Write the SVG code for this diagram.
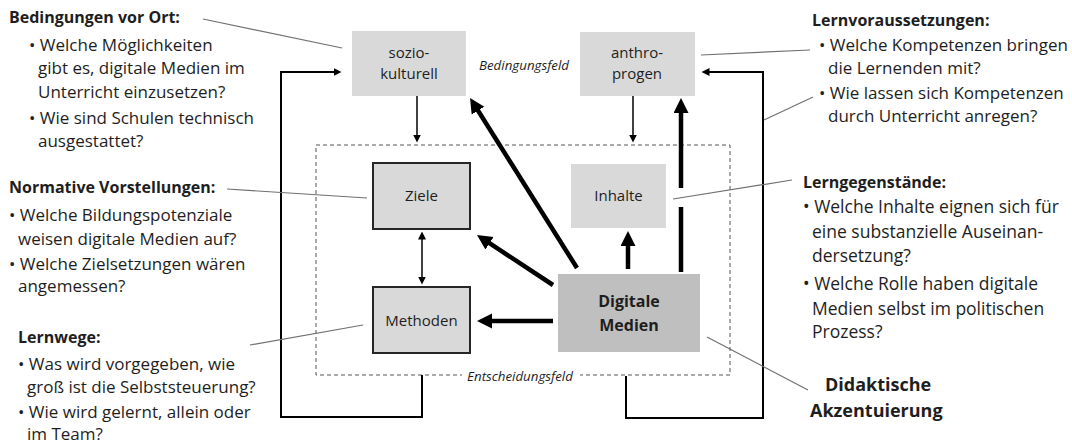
<svg xmlns="http://www.w3.org/2000/svg" width="1072" height="445" viewBox="0 0 1072 445">
  <style>
    text { font-family: "Open Sans", "Liberation Sans", sans-serif; fill: #1e1e1e; }
    .body { font-size: 17px; }
    .bodyL { font-size: 17.5px; }
    .head { font-size: 16px; font-weight: bold; }
    .node { font-size: 15px; }
    .field { font-size: 13.3px; font-style: italic; }
    .dm { font-size: 16px; font-weight: bold; }
    .big { font-size: 18px; font-weight: bold; }
    .light { fill: #d9d9d9; }
    .framed { fill: #d9d9d9; stroke: #262626; stroke-width: 2; }
    .dark { fill: #bfbfbf; }
    .leader { stroke: #707070; stroke-width: 1.2; fill: none; }
    .thin { stroke: #000; stroke-width: 1.5; fill: none; }
    .loop { stroke: #000; stroke-width: 2; fill: none; }
    .thick { stroke: #000; stroke-width: 4.5; fill: none; }
  </style>
  <defs>
    <marker id="headThin" markerUnits="userSpaceOnUse" markerWidth="10" markerHeight="10" refX="0.5" refY="4" orient="auto">
      <path d="M0,0 L8,4 L0,8 z" fill="#000"/>
    </marker>
    <marker id="headThinStart" markerUnits="userSpaceOnUse" markerWidth="10" markerHeight="10" refX="7.5" refY="4" orient="auto">
      <path d="M8,0 L0,4 L8,8 z" fill="#000"/>
    </marker>
    <marker id="headThick" markerUnits="userSpaceOnUse" markerWidth="16" markerHeight="16" refX="1" refY="7.5" orient="auto">
      <path d="M0,0 L15,7.5 L0,15 z" fill="#000"/>
    </marker>
  </defs>

  <rect width="1072" height="445" fill="#fff"/>

  <!-- decision field frame -->
  <g id="entscheidungsfeld">
    <rect x="316" y="145" width="414" height="230" fill="none" stroke="#555" stroke-width="1" stroke-dasharray="4,3"/>
    <rect x="462" y="368" width="118" height="14" fill="#fff"/>
    <text class="field" x="520" y="381" text-anchor="middle">Entscheidungsfeld</text>
  </g>

  <text class="field" x="524" y="70" text-anchor="middle">Bedingungsfeld</text>

  <!-- nodes -->
  <g id="soziokulturell">
    <rect class="light" x="352" y="31" width="114" height="65"/>
    <text class="node" x="409" y="58" text-anchor="middle">sozio-</text>
    <text class="node" x="409" y="79" text-anchor="middle">kulturell</text>
  </g>
  <g id="anthropogen">
    <rect class="light" x="580" y="32" width="115" height="64"/>
    <text class="node" x="637" y="58" text-anchor="middle">anthro-</text>
    <text class="node" x="637" y="79" text-anchor="middle">progen</text>
  </g>
  <g id="ziele">
    <rect class="framed" x="373" y="163" width="97" height="66"/>
    <text class="node" x="421.5" y="201" text-anchor="middle">Ziele</text>
  </g>
  <g id="inhalte">
    <rect class="light" x="571" y="164" width="95" height="64"/>
    <text class="node" x="618.5" y="201" text-anchor="middle">Inhalte</text>
  </g>
  <g id="methoden">
    <rect class="framed" x="373" y="287" width="97" height="66"/>
    <text class="node" x="421.5" y="326" text-anchor="middle">Methoden</text>
  </g>
  <g id="digitale-medien">
    <rect class="dark" x="558" y="274" width="142" height="78"/>
    <text class="dm" x="629" y="307" text-anchor="middle">Digitale</text>
    <text class="dm" x="629" y="331" text-anchor="middle">Medien</text>
  </g>

  <!-- connectors -->
  <g id="connectors">
    <path class="thin" d="M417,96 V135" marker-end="url(#headThin)"/>
    <path class="thin" d="M633,96 V135" marker-end="url(#headThin)"/>
    <path class="thin" d="M422,239 V277" marker-start="url(#headThinStart)" marker-end="url(#headThin)"/>

    <path class="loop" d="M422,375 V417 H281 V72 H334" marker-end="url(#headThin)"/>
    <path class="loop" d="M626,376 V418 H763 V72 H709" marker-end="url(#headThin)"/>

    <path class="thick" d="M553,285 L488.7,242.7" marker-end="url(#headThick)"/>
    <path class="thick" d="M553,321 H491" marker-end="url(#headThick)"/>
    <path class="thick" d="M628,269 V245" marker-end="url(#headThick)"/>
    <path class="thick" d="M577,268 L477.5,109.8" marker-end="url(#headThick)"/>
    <path class="thick" d="M681,272 V207"/>
    <path class="thick" d="M681,188 V112" marker-end="url(#headThick)"/>

    <!-- leader lines to the annotations -->
    <path class="leader" d="M203,19 L342,48"/>
    <path class="leader" d="M701,55 L810,50"/>
    <path class="leader" d="M764,120 L813,97"/>
    <path class="leader" d="M227,189 L367,198"/>
    <path class="leader" d="M250,345 L363,325"/>
    <path class="leader" d="M673,199 L792,180"/>
    <path class="leader" d="M707,337 L808,390"/>
  </g>

  <!-- annotations, left -->
  <g id="bedingungen-vor-ort">
    <text class="head" x="9" y="23">Bedingungen vor Ort:</text>
    <text class="body" x="29" y="51">• Welche Möglichkeiten</text>
    <text class="body" x="38" y="74">gibt es, digitale Medien im</text>
    <text class="body" x="38" y="98">Unterricht einzusetzen?</text>
    <text class="body" x="29" y="124">• Wie sind Schulen technisch</text>
    <text class="body" x="38" y="147">ausgestattet?</text>
  </g>
  <g id="normative-vorstellungen">
    <text class="head" x="9" y="193">Normative Vorstellungen:</text>
    <text class="body" x="9" y="221">• Welche Bildungspotenziale</text>
    <text class="body" x="18" y="245">weisen digitale Medien auf?</text>
    <text class="body" x="9" y="270">• Welche Zielsetzungen wären</text>
    <text class="body" x="18" y="292">angemessen?</text>
  </g>
  <g id="lernwege">
    <text class="head" x="18" y="343">Lernwege:</text>
    <text class="body" x="18" y="370">• Was wird vorgegeben,  wie</text>
    <text class="body" x="27" y="393">groß ist die Selbststeuerung?</text>
    <text class="body" x="18" y="418">• Wie wird gelernt, allein oder</text>
    <text class="body" x="27" y="440">im Team?</text>
  </g>

  <!-- annotations, right -->
  <g id="lernvoraussetzungen">
    <text class="head" x="812" y="26">Lernvoraussetzungen:</text>
    <text class="body" x="819" y="51">• Welche Kompetenzen bringen</text>
    <text class="body" x="828" y="74">die  Lernenden mit?</text>
    <text class="body" x="819" y="99">• Wie lassen sich Kompetenzen</text>
    <text class="body" x="828" y="122">durch Unterricht anregen?</text>
  </g>
  <g id="lerngegenstaende">
    <text class="head" x="803" y="188">Lerngegenstände:</text>
    <text class="bodyL" x="803" y="213">• Welche Inhalte eignen sich für</text>
    <text class="bodyL" x="812" y="238">eine substanzielle Auseinan-</text>
    <text class="bodyL" x="812" y="262">dersetzung?</text>
    <text class="bodyL" x="803" y="290">• Welche Rolle haben digitale</text>
    <text class="bodyL" x="812" y="315">Medien selbst im politischen</text>
    <text class="bodyL" x="812" y="338">Prozess?</text>
  </g>
  <g id="didaktische-akzentuierung">
    <text class="big" x="825" y="391">Didaktische</text>
    <text class="big" x="810" y="417">Akzentuierung</text>
  </g>
</svg>
